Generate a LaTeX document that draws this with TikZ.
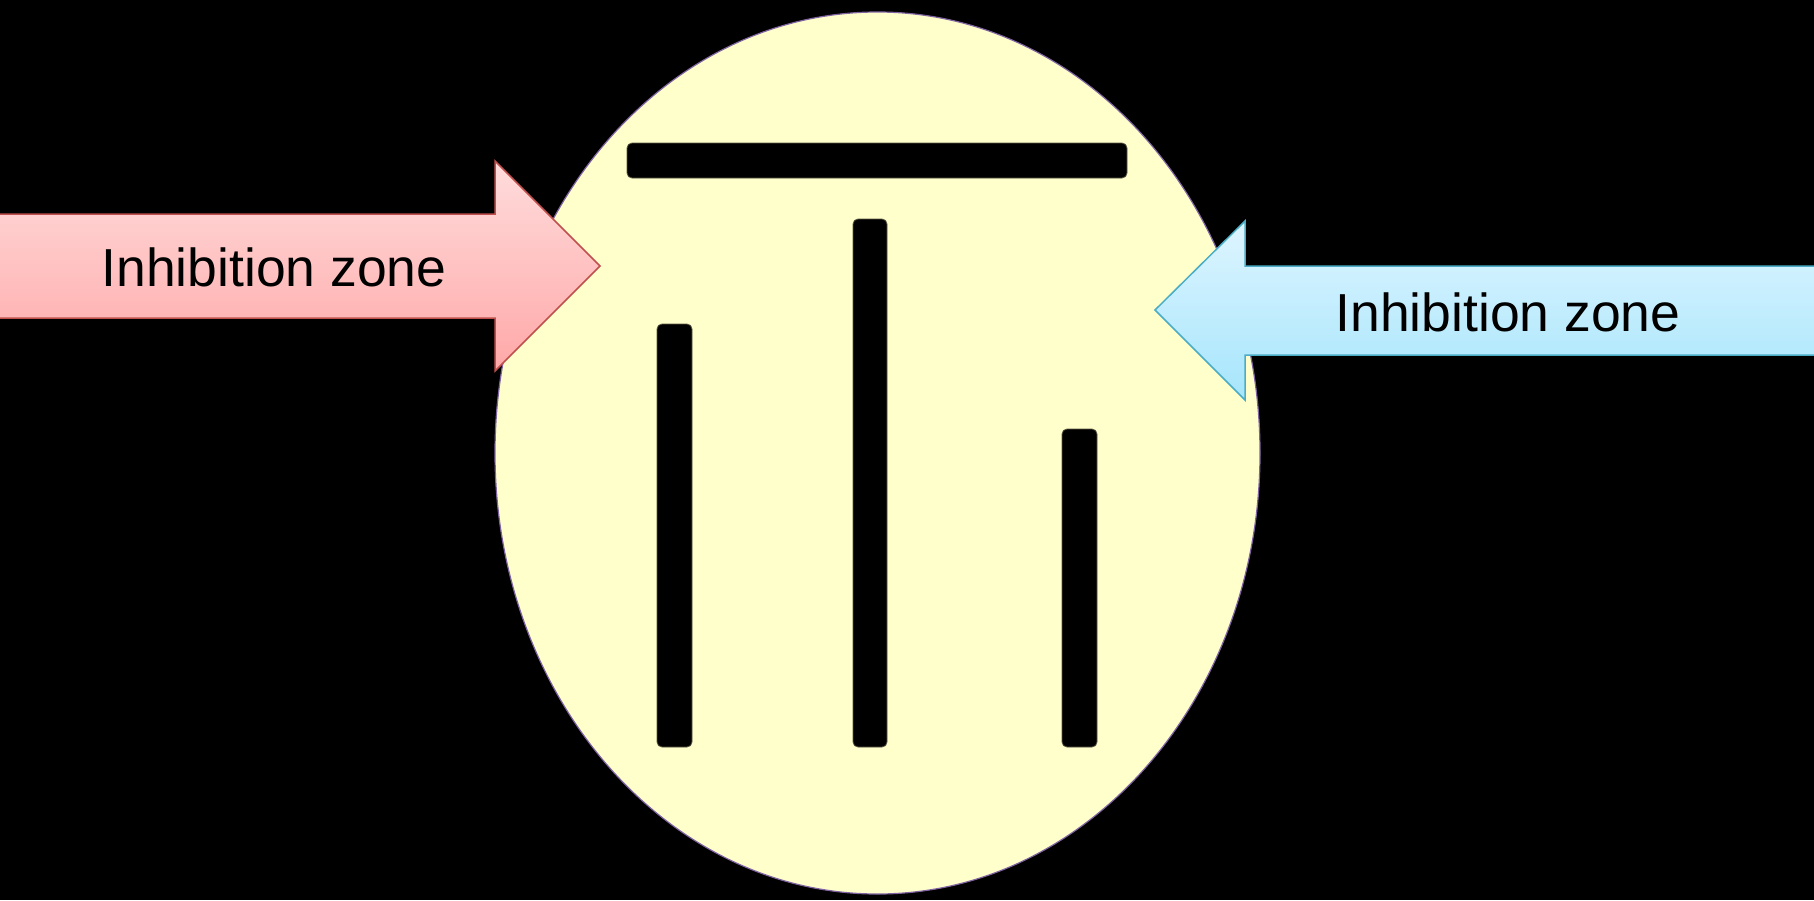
\documentclass[tikz,border=0pt]{standalone}
\usepackage{fontspec}
\setmainfont{Liberation Sans}
\usetikzlibrary{shapes.geometric}
\definecolor{cellfill}{RGB}{255,255,204}
\definecolor{cellline}{RGB}{128,100,162}
\definecolor{redline}{RGB}{192,80,77}
\definecolor{redtop}{RGB}{255,220,220}
\definecolor{redbot}{RGB}{255,168,168}
\definecolor{blueline}{RGB}{75,172,198}
\definecolor{bluetop}{RGB}{222,245,255}
\definecolor{bluebot}{RGB}{166,229,252}
\begin{document}
\begin{tikzpicture}[x=1pt,y=-1pt,
  bar/.style={fill=black,draw=black!75!yellow,line width=0.8pt,rounded corners=5pt},
  lbl/.style={font=\fontsize{53.5}{60}\selectfont,text=black,inner sep=0pt},
  redarrow/.style={draw=redline,line width=1.5pt,top color=redtop,bottom color=redbot,line join=miter},
  bluearrow/.style={draw=blueline,line width=1.5pt,top color=bluetop,bottom color=bluebot,line join=miter}]
  \fill[black] (0,0) rectangle (1814,900);
  \useasboundingbox (0,0) rectangle (1814,900);
  % cell
  \node[ellipse,draw=cellline,line width=1.2pt,fill=cellfill,
        minimum width=765pt,minimum height=882pt,inner sep=0pt] (cell) at (877.5,453) {};
  % bars
  \path[bar] (627,143) rectangle (1127,178);
  \path[bar] (657,324) rectangle (692,747);
  \path[bar] (853,219) rectangle (887,747);
  \path[bar] (1062,429) rectangle (1097,747);
  % left arrow
  \path[redarrow] (-2,214) -- (495,214) -- (495,161) -- (600,266) -- (495,371) -- (495,318) -- (-2,318) -- cycle;
  \node[lbl] (lefttext) at (274,267) {Inhibition zone};
  % right arrow
  \path[bluearrow] (1816,266) -- (1245,266) -- (1245,221) -- (1155,310) -- (1245,400) -- (1245,355) -- (1816,355) -- cycle;
  \node[lbl] (righttext) at (1508,312) {Inhibition zone};
\end{tikzpicture}
\end{document}
